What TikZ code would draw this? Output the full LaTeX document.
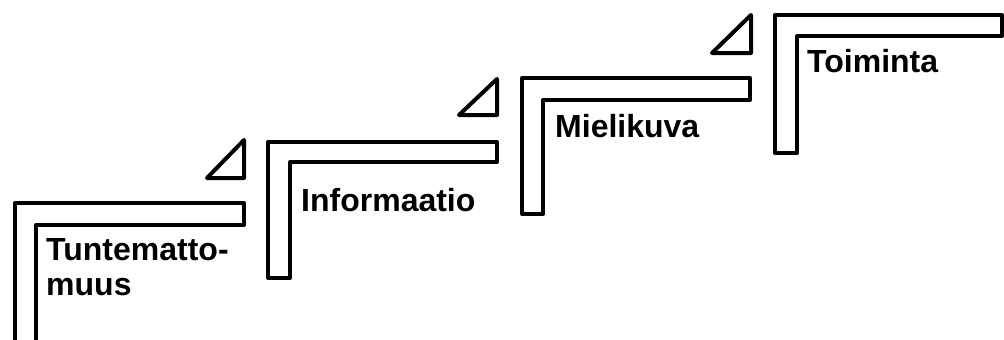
\documentclass[tikz,border=0pt]{standalone}
\usepackage{fontspec}
\setmainfont{Liberation Sans}
\begin{document}
\begin{tikzpicture}[x=1pt,y=-1pt,
  stepline/.style={draw=black,line width=4pt,line join=round},
  steplabel/.style={anchor=base west,inner sep=0pt,font=\fontsize{32}{35}\selectfont\bfseries,align=left}]
\useasboundingbox (0,0) rectangle (1004,340);
\clip (0,0) rectangle (1004,340);
% step 1
\draw[stepline] (15,360) -- (15,203) -- (244,203) -- (244,225) -- (36,225) -- (36,360);
\draw[stepline] (244,140) -- (207,178) -- (244,178) -- cycle;
% step 2
\draw[stepline] (268,278) -- (268,142) -- (497,142) -- (497,162) -- (290,162) -- (290,278) -- cycle;
\draw[stepline] (497,79) -- (459,115) -- (497,115) -- cycle;
% step 3
\draw[stepline] (522,214) -- (522,78) -- (750,78) -- (750,100) -- (543,100) -- (543,214) -- cycle;
\draw[stepline] (751,15) -- (712,53) -- (751,53) -- cycle;
% step 4
\draw[stepline] (775,153) -- (775,15) -- (1002,15) -- (1002,36) -- (797,36) -- (797,153) -- cycle;
% labels
\node[steplabel] (t1) at (46,295) {Tuntematto-\\muus};
\node[steplabel] (t2) at (301,211) {Informaatio};
\node[steplabel] (t3) at (555,137) {Mielikuva};
\node[steplabel] (t4) at (807,72) {Toiminta};
\end{tikzpicture}
\end{document}
